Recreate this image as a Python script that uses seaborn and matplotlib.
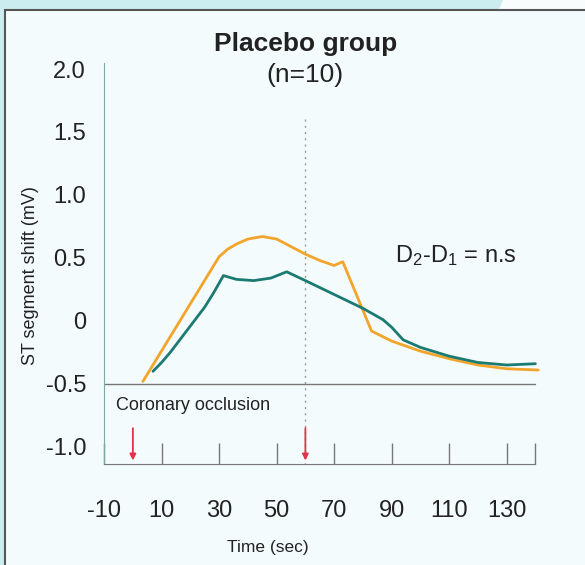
import matplotlib
matplotlib.use("Agg")
import matplotlib.pyplot as plt
from matplotlib.patches import Rectangle, Polygon
import numpy as np
import pandas as pd
import seaborn as sns

# curves (time in sec, ST shift in mV)
orange_t = [3.5, 30, 33, 36, 40, 45, 50, 55, 60, 65, 70, 73, 83, 90, 100, 110, 120, 130, 141]
orange_v = [-0.48, 0.51, 0.57, 0.61, 0.65, 0.67, 0.65, 0.59, 0.53, 0.48, 0.44, 0.47, -0.08, -0.16, -0.24, -0.30, -0.35, -0.38, -0.39]

teal_t = [7, 10, 13, 16, 19, 22, 25, 28, 31.5, 36, 42, 48, 53.5, 60, 70, 80, 87, 90, 94, 100, 110, 120, 130, 140]
teal_v = [-0.40, -0.33, -0.25, -0.16, -0.07, 0.02, 0.11, 0.22, 0.36, 0.33, 0.32, 0.34, 0.39, 0.32, 0.21, 0.10, 0.01, -0.05, -0.15, -0.21, -0.28, -0.33, -0.35, -0.34]

y_ticks = [2.0, 1.5, 1.0, 0.5, 0, -0.5, -1.0]
y_labels = ["2.0", "1.5", "1.0", "0.5", "0", "-0.5", "-1.0"]
x_ticks = [-10, 10, 30, 50, 70, 90, 110, 130, 140]
x_labels = ["-10", "10", "30", "50", "70", "90", "110", "130", ""]
arrows_t = [0, 60]

sns.set_style("white")
plt.rcParams['font.family'] = ['Liberation Sans', 'DejaVu Sans']
plt.rcParams['mathtext.fontset'] = 'custom'
plt.rcParams['mathtext.rm'] = 'Liberation Sans'
plt.rcParams['mathtext.it'] = 'Liberation Sans'

fig = plt.figure(figsize=(5.85, 5.65), dpi=100)
fig.patch.set_facecolor("#cbedef")
fig.patches.append(Polygon([(0.86, 1.0), (1.0, 1.0), (1.0, 0.95), (0.84, 0.95)], closed=True,
                           transform=fig.transFigure, facecolor="#f8fcfc", edgecolor="none", zorder=-11))
fig.patches.append(Rectangle((0.009, -0.01), 1.0, 0.992, transform=fig.transFigure,
                             facecolor="#f4fbfc", edgecolor="#555555", lw=1.5, zorder=-10))

ax = fig.add_axes([0.178, 0.179, 0.747, 0.710])
ax.set_facecolor("none")

df = pd.concat([
    pd.DataFrame({"t": orange_t, "v": orange_v, "grp": "D1"}),
    pd.DataFrame({"t": teal_t, "v": teal_v, "grp": "D2"}),
])
sns.lineplot(data=df, x="t", y="v", hue="grp", palette={"D1": "#f3a42a", "D2": "#1b7b72"},
             lw=2, sort=False, estimator=None, legend=False, ax=ax)

ax.axhline(-0.5, xmin=0, xmax=(140 + 10) / 152, color="#777777", lw=1)
ax.plot([60, 60], [1.6, -1.135], color="#999999", lw=1, ls=(0, (1.5, 3)))
for a in arrows_t:
    ax.annotate("", xy=(a, -1.13), xytext=(a, -0.83),
                arrowprops=dict(arrowstyle="-|>", color="#e6304a", lw=1.3, mutation_scale=9))

ax.set_xlim(-10, 142)
ax.set_ylim(-1.135, 2.05)
ax.set_yticks(y_ticks)
ax.set_yticklabels(y_labels, fontsize=17, color="#222222")
ax.set_xticks(x_ticks)
ax.set_xticklabels(x_labels, fontsize=17, color="#222222")
ax.tick_params(axis="y", length=0, pad=13)
ax.tick_params(axis="x", direction="in", length=15, width=1, color="#777777", pad=26, bottom=True)

sns.despine(ax=ax)
ax.spines["left"].set_color("#7aa9a8")
ax.spines["bottom"].set_color("#777777")
ax.spines["bottom"].set_bounds(-10, 140)

ax.set_xlabel("Time (sec)", fontsize=12.5, color="#222222")
ax.xaxis.set_label_coords(0.375, -0.19)
ax.set_ylabel("ST segment shift (mV)", fontsize=13, color="#222222")
ax.yaxis.set_label_coords(-0.15, 0.47)

fig.text(0.522, 0.922, "Placebo group", fontsize=19, fontweight="bold", ha="center", va="center", color="#222222")
fig.text(0.522, 0.867, "(n=10)", fontsize=19, ha="center", va="center", color="#222222")
ax.text(-6, -0.67, "Coronary occlusion", fontsize=13, color="#222222", va="center")
ax.text(91, 0.52, r"D$_2$-D$_1$ = n.s", fontsize=17, color="#222222", va="center")

fig.savefig("out.png", dpi=100, facecolor=fig.get_facecolor())
